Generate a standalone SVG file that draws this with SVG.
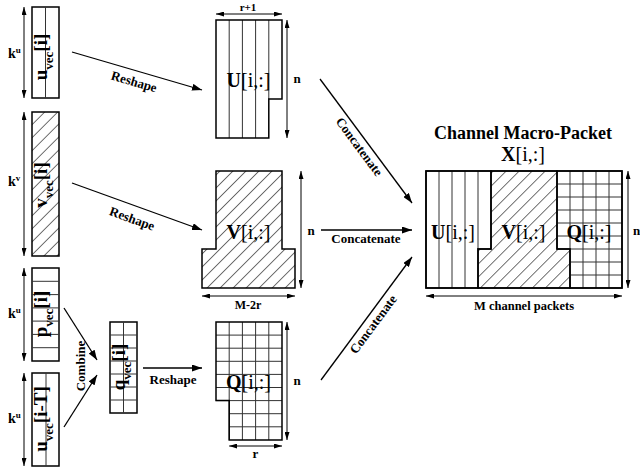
<svg xmlns="http://www.w3.org/2000/svg" width="640" height="473" viewBox="0 0 640 473">
<style>
  text { font-family: "Liberation Serif", "Times New Roman", serif; fill: #000; }
  .b { font-weight: bold; }
  .vl { font-weight: bold; font-size: 19px; }
  .sub { font-size: 13px; }
  .lbl { font-size: 20px; }
  .lab { font-weight: bold; font-size: 13px; }
  .dim { font-weight: bold; font-size: 12px; }
  .out { fill: none; stroke: #000; stroke-width: 1.5; }
  .hat { fill: url(#hatch); stroke: #000; stroke-width: 1.5; }
  .in { stroke: #333; stroke-width: 1; fill: none; }
  .con { stroke: #000; stroke-width: 1.3; fill: none; marker-end: url(#ah); }
  .dl { stroke: #000; stroke-width: 1; fill: none; marker-start: url(#dh); marker-end: url(#dh); }
</style>
<defs>
  <pattern id="hatch" patternUnits="userSpaceOnUse" width="9.2" height="9.2" patternTransform="rotate(45)">
    <line x1="0" y1="-1" x2="0" y2="10.2" stroke="#000" stroke-width="1.1"/>
  </pattern>
  <marker id="ah" markerUnits="userSpaceOnUse" markerWidth="10" markerHeight="7" refX="10" refY="3.5" orient="auto">
    <path d="M0,0 L10,3.5 L0,7 z" fill="#000"/>
  </marker>
  <marker id="dh" markerUnits="userSpaceOnUse" markerWidth="8" markerHeight="5" refX="8" refY="2.5" orient="auto-start-reverse">
    <path d="M0,0 L8,2.5 L0,5 z" fill="#000"/>
  </marker>
</defs>
<rect width="640" height="473" fill="#fff"/>

<!-- u_vec[i] -->
<g id="uvec">
  <rect x="32" y="7" width="27" height="91" class="out" fill="#fff"/>
  <line x1="45.5" y1="7" x2="45.5" y2="98" class="in"/>
  <text class="vl" transform="translate(47,57) rotate(-90)" text-anchor="middle">u<tspan class="sub" dy="6">vec</tspan><tspan dy="-6">[i]</tspan></text>
  <line x1="24" y1="7" x2="24" y2="98" class="dl"/>
  <text class="b" x="8" y="58" font-size="14">k<tspan font-size="9" dy="-5">u</tspan></text>
</g>

<!-- v_vec[i] -->
<g id="vvec">
  <rect x="32" y="112" width="27" height="144" class="hat"/>
  <text class="vl" transform="translate(47,185) rotate(-90)" text-anchor="middle">v<tspan class="sub" dy="6">vec</tspan><tspan dy="-6">[i]</tspan></text>
  <line x1="24" y1="112" x2="24" y2="256" class="dl"/>
  <text class="b" x="8" y="186" font-size="14">k<tspan font-size="9" dy="-5">v</tspan></text>
</g>

<!-- p_vec[i] -->
<g id="pvec">
  <rect x="32" y="268" width="27" height="93" class="out" fill="#fff"/>
  <path class="in" d="M32,281.3 H59 M32,294.6 H59 M32,307.9 H59 M32,321.1 H59 M32,334.4 H59 M32,347.7 H59"/>
  <text class="vl" transform="translate(47,314) rotate(-90)" text-anchor="middle">p<tspan class="sub" dy="6">vec</tspan><tspan dy="-6">[i]</tspan></text>
  <line x1="24" y1="268" x2="24" y2="361" class="dl"/>
  <text class="b" x="8" y="318" font-size="14">k<tspan font-size="9" dy="-5">u</tspan></text>
</g>

<!-- u_vec[i-T] -->
<g id="uvecT">
  <rect x="32" y="373" width="27" height="93" class="out" fill="#fff"/>
  <line x1="46" y1="373" x2="46" y2="466" class="in"/>
  <text class="vl" transform="translate(47,419) rotate(-90)" text-anchor="middle">u<tspan class="sub" dy="6">vec</tspan><tspan dy="-6">[i-T]</tspan></text>
  <line x1="24" y1="373" x2="24" y2="466" class="dl"/>
  <text class="b" x="8" y="423" font-size="14">k<tspan font-size="9" dy="-5">u</tspan></text>
</g>

<!-- q_vec[i] -->
<g id="qvec">
  <rect x="110" y="322" width="27" height="91" class="out" fill="#fff"/>
  <path class="in" d="M123.5,322 V413 M110,335 H137 M110,348 H137 M110,361 H137 M110,374 H137 M110,387 H137 M110,400 H137"/>
  <text class="vl" transform="translate(125,367) rotate(-90)" text-anchor="middle">q<tspan class="sub" dy="6">vec</tspan><tspan dy="-6">[i]</tspan></text>
</g>

<!-- U[i,:] -->
<g id="U">
  <path class="in" d="M229.2,20 V138 M242.4,20 V138 M255.6,20 V138 M268.8,20 V99"/>
  <path class="out" d="M216,20 H282 V99 H268.8 V138 H216 Z"/>
  <text class="lbl" x="248.5" y="87" text-anchor="middle"><tspan class="b">U</tspan>[i,:]</text>
  <line x1="216" y1="14" x2="282" y2="14" class="dl"/>
  <text class="b" x="248" y="11" text-anchor="middle" font-size="11">r+1</text>
  <line x1="287" y1="20" x2="287" y2="138" class="dl"/>
  <text class="lab" x="297" y="83" text-anchor="middle">n</text>
</g>

<!-- V[i,:] -->
<g id="V">
  <path class="hat" d="M216,171 H282 V249 H295 V288 H202 V249 H216 Z"/>
  <text class="lbl" x="248.5" y="239" text-anchor="middle"><tspan class="b">V</tspan>[i,:]</text>
  <line x1="202" y1="296" x2="295" y2="296" class="dl"/>
  <text class="dim" x="248" y="309" text-anchor="middle">M-2r</text>
  <line x1="301" y1="171" x2="301" y2="288" class="dl"/>
  <text class="lab" x="311" y="235" text-anchor="middle">n</text>
</g>

<!-- Q[i,:] -->
<g id="Q">
  <path class="in" d="M229.2,322 V440 M242.4,322 V440 M255.6,322 V440 M268.8,322 V440
    M216,335.1 H282 M216,348.2 H282 M216,361.3 H282 M216,374.4 H282 M216,387.5 H282 M216,400.6 H282
    M229.2,413.7 H282 M229.2,426.8 H282"/>
  <path class="out" d="M216,322 H282 V440 H229.2 V400.6 H216 Z"/>
  <text class="lbl" x="248.5" y="389" text-anchor="middle"><tspan class="b">Q</tspan>[i,:]</text>
  <line x1="287" y1="322" x2="287" y2="440" class="dl"/>
  <text class="lab" x="297" y="385" text-anchor="middle">n</text>
  <line x1="229.2" y1="446" x2="282" y2="446" class="dl"/>
  <text class="lab" x="255.5" y="458" text-anchor="middle">r</text>
</g>

<!-- X[i,:] -->
<g id="X">
  <text class="b" x="523" y="139" text-anchor="middle" font-size="18">Channel Macro-Packet</text>
  <text class="lbl" x="523" y="161" text-anchor="middle"><tspan class="b">X</tspan>[i,:]</text>
  <path class="in" d="M439,171 V288 M452,171 V288 M465,171 V288 M478,171 V249"/>
  <path class="out" d="M426,171 H491 V249 H478 V288 H426 Z"/>
  <path class="hat" d="M491,171 H557 V249 H570 V288 H478 V249 H491 Z"/>
  <path class="in" d="M570,171 V249 M583,171 V288 M596,171 V288 M609,171 V288
    M557,184 H622 M557,197 H622 M557,210 H622 M557,223 H622 M557,236 H622 M557,249 H622
    M570,262 H622 M570,275 H622"/>
  <path class="out" d="M557,171 H622 V288 H570 V249 H557 Z"/>
  <rect x="426" y="171" width="196" height="117" class="out"/>
  <text class="lbl" x="453" y="239" text-anchor="middle"><tspan class="b">U</tspan>[i,:]</text>
  <text class="lbl" x="523.5" y="239" text-anchor="middle"><tspan class="b">V</tspan>[i,:]</text>
  <text class="lbl" x="589" y="239" text-anchor="middle"><tspan class="b">Q</tspan>[i,:]</text>
  <line x1="628" y1="171" x2="628" y2="288" class="dl"/>
  <text class="lab" x="633" y="235">n</text>
  <line x1="426" y1="296" x2="622" y2="296" class="dl"/>
  <text class="b" x="524" y="310" text-anchor="middle" font-size="12.5">M channel packets</text>
</g>

<!-- connectors -->
<g id="connectors">
  <line x1="72" y1="52" x2="202" y2="90" class="con"/>
  <text class="lab" transform="translate(134,82) rotate(16.3)" text-anchor="middle" dy="4">Reshape</text>
  <line x1="72" y1="183" x2="202" y2="230" class="con"/>
  <text class="lab" transform="translate(132,219) rotate(19.9)" text-anchor="middle" dy="4">Reshape</text>
  <line x1="64" y1="308" x2="97" y2="360" class="con"/>
  <line x1="64" y1="427" x2="97" y2="375" class="con"/>
  <text class="lab" transform="translate(85,366) rotate(-90)" text-anchor="middle">Combine</text>
  <line x1="143" y1="368" x2="202" y2="368" class="con"/>
  <text class="lab" x="173" y="384" text-anchor="middle">Reshape</text>
  <line x1="320" y1="79" x2="412" y2="203" class="con"/>
  <text class="lab" transform="translate(359,147) rotate(53.4)" text-anchor="middle" dy="4">Concatenate</text>
  <line x1="321" y1="230" x2="412" y2="230" class="con"/>
  <text class="lab" x="366" y="243" text-anchor="middle">Concatenate</text>
  <line x1="321" y1="380" x2="412" y2="257" class="con"/>
  <text class="lab" transform="translate(373.5,324.5) rotate(-53.5)" text-anchor="middle" dy="4">Concatenate</text>
</g>
</svg>
